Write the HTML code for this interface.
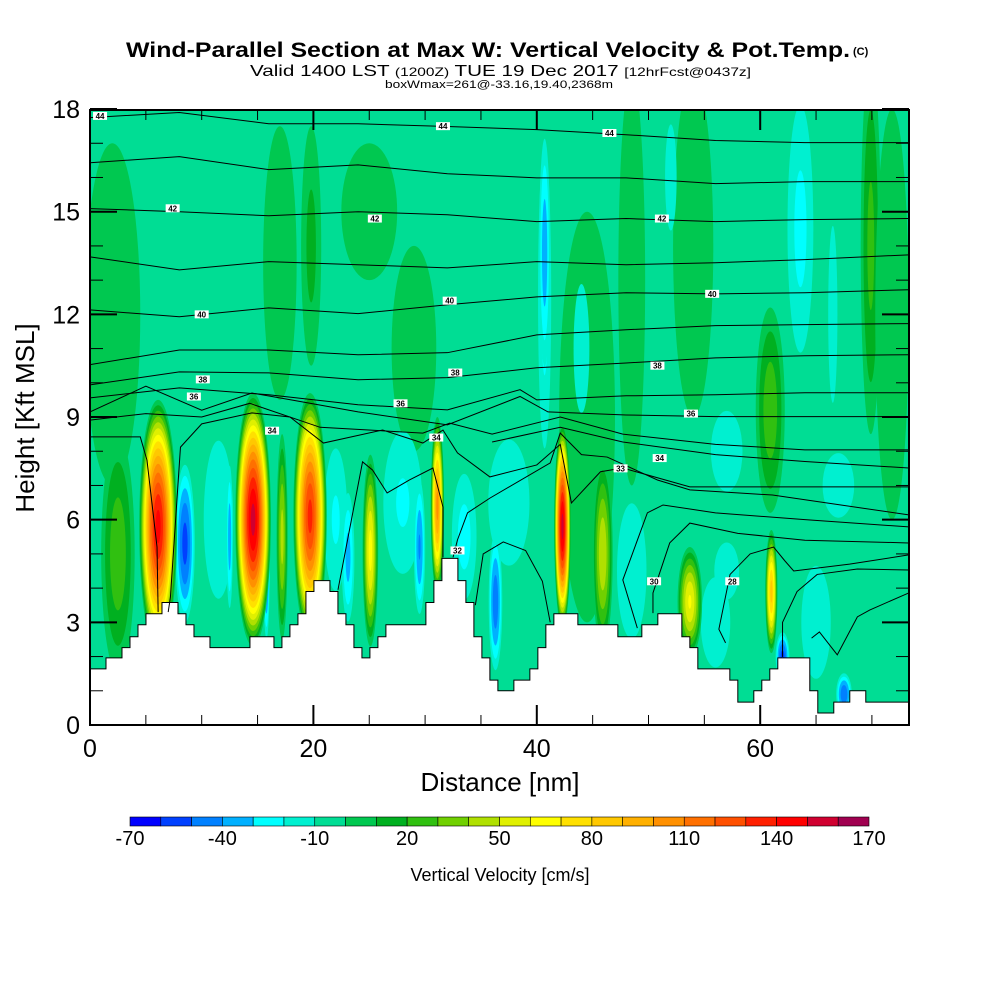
<!DOCTYPE html>
<html><head><meta charset="utf-8"><style>
html,body{margin:0;padding:0;background:#fff;}
svg{display:block;font-family:"Liberation Sans",sans-serif;}
</style></head><body>
<svg id="chart" width="1000" height="1000" viewBox="0 0 1000 1000" xmlns="http://www.w3.org/2000/svg">
<defs><clipPath id="plotclip"><rect x="90" y="110" width="819" height="615"/></clipPath></defs>
<g>
<text x="126" y="57" font-size="21" font-weight="bold" textLength="724" lengthAdjust="spacingAndGlyphs">Wind-Parallel Section at Max W: Vertical Velocity &amp; Pot.Temp.</text>
<text x="853" y="55" font-size="11" font-weight="bold">(C)</text>
<text x="250" y="76" font-size="16" textLength="501" lengthAdjust="spacingAndGlyphs">Valid 1400 LST <tspan font-size="12">(1200Z)</tspan> TUE 19 Dec 2017 <tspan font-size="12">[12hrFcst@0437z]</tspan></text>
<text x="385" y="88" font-size="11" textLength="228" lengthAdjust="spacingAndGlyphs">boxWmax=261@-33.16,19.40,2368m</text>
</g>
<rect x="90" y="110" width="819" height="615" fill="#00dd94"/>
<g id="field" clip-path="url(#plotclip)"></g>
<g id="terrain" clip-path="url(#plotclip)"></g>
<g id="contours" clip-path="url(#plotclip)"></g>
<g id="axes"></g>
<g id="cbar"></g>
<text x="500" y="791" font-size="26" text-anchor="middle">Distance [nm]</text>
<text transform="translate(34,418) rotate(-90)" font-size="26" text-anchor="middle">Height [Kft MSL]</text>
<text x="500" y="881" font-size="18" text-anchor="middle">Vertical Velocity [cm/s]</text>
</svg>
<script>
// ---- data ----
const binColors = ["#0000ff","#0040ff","#0080ff","#00b0ff","#00ffff","#00f0d0","#00dd94","#00c850","#00b020","#30c010","#70d000","#b0e000","#e0f000","#ffff00","#ffe000","#ffc800","#ffb000","#ff9000","#ff7000","#ff5000","#ff2000","#ff0000","#d00030","#a00050"];
const cbarLabels = [-70,-40,-10,20,50,80,110,140,170];
const xTickLabels = [0,20,40,60];
const yTickLabels = [0,3,6,9,12,15,18];
// cells: center distance (nm), center height (kft), half-width (nm), half-height (kft), peak w (cm/s)
const cellX    = [2,17,19.8,25,29,44.5,48.5,54,69.9,71.8,2.5,44,57,67,40.7,40.7,63.6,52,66.5,11.5,22,28,33.5,37.5,48.5,56,65,57, 60.9, 8.5,12.5,15.8,23.1,29.5,36.3,62.0,67.5, 6.1,14.6,17.2,19.7,25.1,31.1,42.3,45.9,53.7,61.0];
const cellK    = [12,13.5,14,15,11,9,13,14,14,12,5,11,8,7,12.5,13.8,14.5,16,12,6,6,6.5,5.5,6.5,4.5,3,3,4.5, 9.2, 5.3,5.5,5.0,4.9,5.2,3.6,2.0,0.9, 5.8,6.0,5.5,6.1,5.1,6.4,5.8,5.0,3.6,3.9];
const cellHW   = [2.5,1.5,0.9,2.5,2,2.5,1.2,1.8,0.9,1.5,1.5,1.5,3,3,0.8,0.6,1.6,1,0.8,2,1.5,2.5,1.5,3,2,2,2,2, 1.3, 1.0,0.35,0.35,0.7,0.6,0.7,0.7,0.8, 1.7,1.6,0.5,1.5,0.7,0.6,0.75,0.9,1.1,0.55];
const cellHH   = [5,4,3.5,2.0,3,6,6,5,5.5,6,3.5,4,2.5,2,6,4,5,3,5,3.5,3,3,2.5,3,3,2,2.5,1.5, 3, 2.6,2.5,2.8,2.3,2.3,2.3,0.8,0.7, 3.7,3.7,3,3.6,2.8,2.6,3.0,2.8,1.6,1.8];
const cellPeak = [8,8,14,6,8,8,8,9,24,6,28,-14,-14,-14,-25,-38,-24,-15,-15,-20,-22,-22,-25,-18,-20,-20,-20,-16, 28, -55,-38,-55,-35,-42,-48,-55,-50, 145,155,45,135,65,105,155,50,62,85];
// terrain height (kft) per grid step
const terrainStep = 0.716;
const terrainK = [1.64,1.64,1.96,1.96,2.26,2.58,2.93,3.25,3.25,3.58,3.58,3.25,2.93,2.58,2.58,2.26,2.26,2.26,2.26,2.26,2.58,2.58,2.58,2.26,2.58,2.93,3.25,3.9,4.22,4.22,3.9,3.25,2.93,2.26,1.96,2.26,2.58,2.93,2.93,2.93,2.93,2.93,3.58,4.22,4.87,4.87,4.22,3.58,2.58,1.96,1.31,1.0,1.0,1.31,1.31,1.64,2.26,2.93,3.25,3.25,3.25,2.93,2.93,2.93,2.93,2.93,2.58,2.58,2.58,2.93,2.93,3.25,3.25,3.25,2.58,2.26,1.64,1.64,1.64,1.64,1.31,0.67,0.67,1.0,1.31,1.64,1.96,1.96,1.96,1.96,1.0,0.35,0.35,0.67,0.67,1.0,1.0,0.67,0.67,0.67,0.67,0.67,0.67];
// potential temperature contours: [distance nm, height kft]
const thetaLines = [
 [[0,17.75],[8,17.9],[16,17.57],[24,17.57],[32,17.49],[40,17.4],[48,17.25],[56,17.08],[64,17.02],[73.3,17.02]],
 [[0,16.43],[8,16.61],[16,16.23],[24,16.37],[32,16.11],[40,15.99],[48,15.99],[56,15.82],[64,15.88],[73.3,15.88]],
 [[0,15.09],[8,15.0],[16,14.88],[24,15.0],[32,14.91],[40,14.71],[48,14.8],[56,14.71],[64,14.77],[73.3,14.8]],
 [[0,13.68],[8,13.3],[16,13.54],[24,13.45],[32,13.36],[40,13.54],[48,13.45],[56,13.51],[64,13.6],[73.3,13.74]],
 [[0,12.13],[8,11.93],[16,12.19],[24,12.02],[32,12.28],[40,12.51],[48,12.63],[56,12.6],[64,12.63],[73.3,12.72]],
 [[0,10.53],[8,10.96],[16,10.96],[24,10.82],[32,10.88],[40,11.4],[48,11.55],[56,11.67],[64,11.7],[73.3,11.73]],
 [[0,9.94],[8,10.32],[16,10.29],[24,10.09],[32,10.15],[40,10.44],[48,10.58],[56,10.73],[64,10.79],[73.3,10.82]],
 [[0,9.56],[8,9.85],[16,9.65],[24,9.36],[32,9.21],[38.5,9.8],[40,9.5],[48,9.62],[56,9.65],[64,9.71],[73.3,9.71]],
 [[0,9.15],[5,9.9],[10,9.2],[14.5,9.7],[18,9.5],[24,9.15],[32,8.77],[38.5,9.6],[41,9.15],[48,9.06],[56,9.01],[73.3,9.01]],
 [[0,8.91],[5,9.1],[10,9.0],[14.3,9.4],[20.6,8.7],[29.8,8.53],[32.2,8.82],[36,8.5],[42.1,9.0],[47.7,8.5],[56,8.2],[64,8.04],[73.3,8.04]],
 [[0,8.42],[4.5,8.42],[5.1,7.74],[6.0,5.2],[6.1,3.3]],
 [[36,8.27],[42.1,8.7],[47.7,8.27],[56,7.9],[64,7.7],[73.3,7.51]],
 [[7.0,3.3],[7.2,3.74],[8.1,8.12],[10,8.8],[14.5,9.12],[17.9,9.0],[20.9,8.24],[26.2,8.62],[29.8,8.24],[31.6,8.62],[32.9,7.95],[35.8,7.25],[40,7.6],[42.1,8.2],[43.1,6.49],[45.7,7.4],[47.7,7.51],[53.7,6.96],[73.3,6.96]],
 [[32.5,4.9],[32.9,5.41],[33.8,6.2],[35.8,6.63],[41.2,7.66],[42.1,8.53],[44,7.9],[46.3,7.83],[50.8,7.16],[53.7,6.87],[61.1,6.72],[73.3,6.14]],
 [[49.0,2.83],[47.7,4.24],[49.9,6.2],[51.3,6.43],[56,6.2],[64,6.0],[73.3,5.79]],
 [[50.4,3.27],[50.4,3.86],[51.9,5.32],[53.7,5.9],[58,5.6],[64,5.4],[73.3,5.32]],
 [[56.9,2.4],[56.3,2.8],[57.3,4.4],[59.1,5.0],[61.2,5.2],[62.2,4.8],[63,4.5],[68,4.7],[73.3,4.97]],
 [[62.0,1.99],[62.0,3.0],[63.3,3.9],[65.1,4.4],[68.7,4.56],[73.3,4.53]],
 [[64.6,2.54],[65.3,2.72],[66.9,2.05],[68.7,3.16],[69.8,3.36],[73.3,3.86]],
 [[22.2,3.95],[24.4,7.69],[25.3,7.45],[26.6,6.78],[28.6,7.16],[30.7,7.51],[31.6,6.37],[31.6,4.9]],
 [[34.5,3.5],[35.2,5.0],[37,5.35],[39,5.1],[40.5,4.2],[41.2,3.0]]
];
const labelX = [0.9,31.6,46.5,7.4,25.5,51.2,10,32.2,55.7,10.1,32.7,50.8,9.3,27.8,53.8,16.3,31.0,51.0,47.5,32.9,50.5,57.5];
const labelK = [17.8,17.5,17.3,15.1,14.8,14.8,12.0,12.4,12.6,10.1,10.3,10.5,9.6,9.4,9.1,8.6,8.4,7.8,7.5,5.1,4.2,4.2];
const labelText = ["44","44","44","42","42","42","40","40","40","38","38","38","36","36","36","34","34","34","33","32","30","28"];

// ---- axis functions ----
const X = nm => 90 + nm*11.17;
const Y = k => 725 - k*34.22;
const NS = "http://www.w3.org/2000/svg";
function mk(tag, attrs, parent){ const e=document.createElementNS(NS,tag); for(const a in attrs) e.setAttribute(a,attrs[a]); parent.appendChild(e); return e; }
function binIndex(v){ return Math.max(0,Math.min(23,Math.floor((v+70)/10))); }

// ---- field ----
const field = document.getElementById('field');
for(let i=0;i<cellX.length;i++){
  const p = cellPeak[i];
  const g = mk('g',{},field);
  
  
  const ts=[];
  if(p>0){ for(let t=0;t<p;t+=10) ts.push(t); }
  else { for(let t=-10;t>p;t-=10) ts.push(t); }
  ts.forEach(t=>{
    const f = Math.pow(1 - t/p, 0.6);
    const idx = p>0 ? binIndex(t) : binIndex(t-10);
    const e = mk('ellipse',{cx:X(cellX[i]),cy:Y(cellK[i]),rx:cellHW[i]*11.17*f,ry:cellHH[i]*34.22*f,fill:binColors[idx]},g);
    
    
  });
}

// ---- terrain ----
const terr = document.getElementById('terrain');
let d = `M${X(0)},${Y(-1)}`;
terrainK.forEach((h,i)=>{ d += ` L${X(i*terrainStep)},${Y(h)} L${X((i+1)*terrainStep)},${Y(h)}`; });
d += ` L${X(terrainK.length*terrainStep)},${Y(-1)} Z`;
const tp = mk('path',{d:d,fill:'#fff',stroke:'#000','stroke-width':1},terr);



// ---- contours ----
const cg = document.getElementById('contours');
thetaLines.forEach(line=>{
  const pl = mk('polyline',{points:line.map(p=>X(p[0])+','+Y(p[1])).join(' '),fill:'none',stroke:'#000','stroke-width':1},cg);
  
  
});
labelText.forEach((t,i)=>{
  const r = mk('rect',{x:X(labelX[i])-7,y:Y(labelK[i])-4,width:14,height:8,fill:'#fff'},cg);
  
  
  const tx = mk('text',{x:X(labelX[i]),y:Y(labelK[i])+3,'font-size':8,'font-weight':'bold','text-anchor':'middle'},cg);
  tx.textContent = t;
  
  
});

// ---- axes ----
const ax = document.getElementById('axes');
for(let k=0;k<=18;k++){
  const L = k%3===0 ? 27 : 13;
  const t1 = mk('line',{x1:90,x2:90+L,y1:Y(k),y2:Y(k),stroke:'#000','stroke-width':k%3===0?2:1},ax);
   
  const t2 = mk('line',{x1:909,x2:909-L,y1:Y(k),y2:Y(k),stroke:'#000','stroke-width':k%3===0?2:1},ax);
   
}
for(let n=0;n<=70;n+=5){
  const L = n%20===0 ? 20 : 10;
  const t1 = mk('line',{x1:X(n),x2:X(n),y1:725,y2:725-L,stroke:'#000','stroke-width':n%20===0?2:1},ax);
   
  const t2 = mk('line',{x1:X(n),x2:X(n),y1:110,y2:110+L,stroke:'#000','stroke-width':n%20===0?2:1},ax);
   
}
const frame = mk('rect',{x:90,y:110,width:819,height:615,fill:'none',stroke:'#000','stroke-width':2},ax);
 
yTickLabels.forEach(k=>{
  const t = mk('text',{x:80,y:Y(k)+9,'font-size':25,'text-anchor':'end'},ax);
  t.textContent = k;
   
});
xTickLabels.forEach(n=>{
  const t = mk('text',{x:X(n),y:757,'font-size':25,'text-anchor':'middle'},ax);
  t.textContent = n;
   
});

// ---- colorbar ----
const cb = document.getElementById('cbar');
const cbx0=130, cbw=739/binColors.length;
binColors.forEach((c,i)=>{
  const r = mk('rect',{x:cbx0+i*cbw,y:817,width:cbw,height:9,fill:c,stroke:'#000','stroke-width':0.6},cb);
   
});
cbarLabels.forEach(v=>{
  const i = (v+70)/10;
  const t = mk('text',{x:cbx0+i*cbw,y:845,'font-size':20,'text-anchor':'middle'},cb);
  t.textContent = v;
   
});
</script>
</body></html>
